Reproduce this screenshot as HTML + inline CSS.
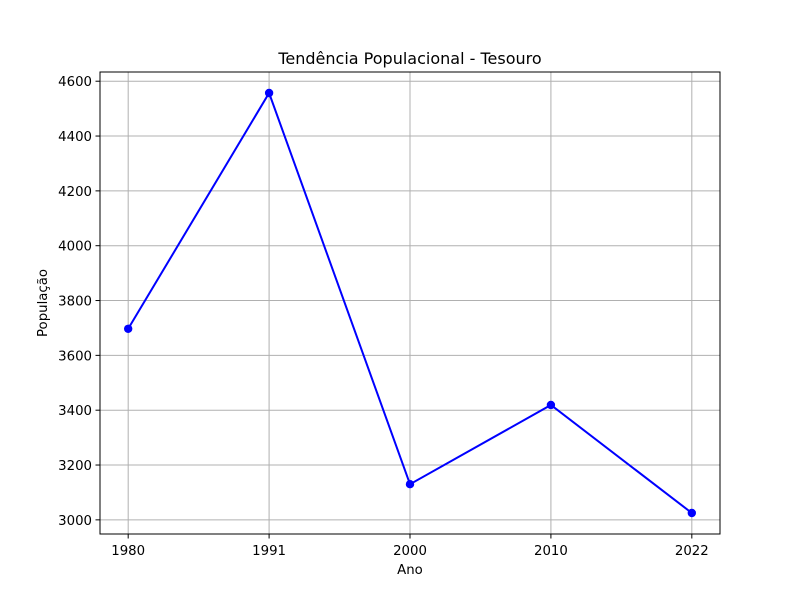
<!DOCTYPE html>
<html><head><meta charset="utf-8"><style>
body{margin:0;background:#fff;font-family:"DejaVu Sans","Liberation Sans",sans-serif;}
svg text{font-family:"DejaVu Sans","Liberation Sans",sans-serif;}
</style></head><body>
<svg id="chart" width="800" height="600" xmlns="http://www.w3.org/2000/svg"></svg>
<script>
const categories = ["1980","1991","2000","2010","2022"];
const populationValues = [3697, 4557, 3130, 3419, 3025];
const yTicks = [3000,3200,3400,3600,3800,4000,4200,4400,4600];

const L=100,R=720,T=72,B=534;
const yMin=2948.4,yMax=4633.6;
const xScale=i=>L+(i+0.2)/4.4*(R-L);
const yScale=v=>B-(v-yMin)/(yMax-yMin)*(B-T);
const svg=document.getElementById('chart');
const NS="http://www.w3.org/2000/svg";
function mk(tag,attrs,parent){const e=document.createElementNS(NS,tag);for(const k in attrs)e.setAttribute(k,attrs[k]);(parent||svg).appendChild(e);return e;}

const grid=mk('g',{});


categories.forEach((c,i)=>{const x=xScale(i);
 const gl=mk('line',{x1:x,x2:x,y1:T,y2:B,stroke:'#b0b0b0','stroke-width':1},grid);
 
 
 mk('line',{x1:x,x2:x,y1:B,y2:B+4.5,stroke:'#000','stroke-width':1});
 const t=mk('text',{x:x,y:B+21,'text-anchor':'middle','font-size':13.3});t.textContent=c;
 
 
});
yTicks.forEach(v=>{const y=yScale(v);
 const gl=mk('line',{x1:L,x2:R,y1:y,y2:y,stroke:'#b0b0b0','stroke-width':1},grid);
 
 
 mk('line',{x1:L-4.5,x2:L,y1:y,y2:y,stroke:'#000','stroke-width':1});
 const t=mk('text',{x:L-8,y:y+5,'text-anchor':'end','font-size':13.3});t.textContent=v;
 
 
});
const pts=populationValues.map((v,i)=>xScale(i)+','+yScale(v)).join(' ');
const line=mk('polyline',{points:pts,fill:'none',stroke:'#0000ff','stroke-width':2});


populationValues.forEach((v,i)=>{
 const c=mk('circle',{cx:xScale(i),cy:yScale(v),r:4.2,fill:'#0000ff'});
 
 
});
const frame=mk('rect',{x:L,y:T,width:R-L,height:B-T,fill:'none',stroke:'#000','stroke-width':1});


const title=mk('text',{x:(L+R)/2,y:64,'text-anchor':'middle','font-size':16});title.textContent='Tendência Populacional - Tesouro';


const xl=mk('text',{x:(L+R)/2,y:574,'text-anchor':'middle','font-size':13.3});xl.textContent='Ano';


const yl=mk('text',{x:0,y:0,'text-anchor':'middle','font-size':13.3,transform:'translate(47,'+((T+B)/2)+') rotate(-90)'});yl.textContent='População';


</script>
</body></html>
